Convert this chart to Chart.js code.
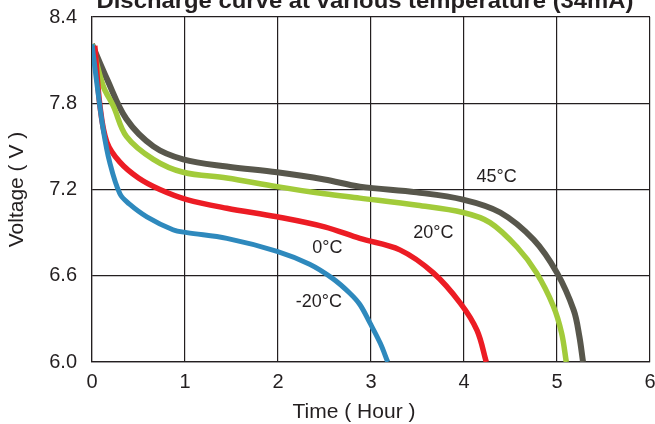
<!DOCTYPE html>
<html><head><meta charset="utf-8">
<script src="https://cdn.jsdelivr.net/npm/chart.js@4/dist/chart.umd.min.js"></script>
<style>html,body{margin:0;padding:0;background:#fff}#w{width:655px;height:424px}</style>
</head><body><div id="w"><canvas id="c"></canvas></div>
<script>
const chartTitle = "Discharge curve at various temperature (34mA)";
const xTitle = "Time ( Hour )";
const yTitle = "Voltage ( V )";
const xTicks = [0,1,2,3,4,5,6];
const yTicks = [6.0,6.6,7.2,7.8,8.4];
const seriesNames = ["-20°C","0°C","20°C","45°C"];
const seriesColors = ["#2e89bd","#ec1c24","#a2cb3a","#58574c"];
const seriesWidths = [5,5.5,5.5,6];
const tM20 = [0,0.06,0.12,0.19,0.30,0.40,0.59,0.87,1.02,1.45,1.99,2.34,2.59,2.77,2.88,2.99,3.10,3.18];
const vM20 = [8.21,7.90,7.62,7.39,7.17,7.10,7.01,6.92,6.90,6.86,6.77,6.68,6.58,6.48,6.40,6.27,6.13,6.0];
const t0 = [0.03,0.086,0.16,0.30,0.50,0.73,1.02,1.45,1.99,2.50,2.88,3.31,3.67,3.96,4.14,4.24];
const v0 = [8.20,7.78,7.53,7.39,7.28,7.20,7.13,7.07,7.01,6.94,6.86,6.78,6.62,6.41,6.22,6.0];
const t20 = [0,0.12,0.23,0.37,0.66,0.98,1.45,1.99,2.50,2.88,3.50,3.99,4.28,4.57,4.78,4.96,5.05,5.10];
const v20 = [8.21,7.92,7.78,7.57,7.41,7.32,7.28,7.22,7.17,7.14,7.09,7.04,6.97,6.80,6.62,6.39,6.20,6.0];
const t45 = [0,0.16,0.37,0.66,0.98,1.45,1.99,2.50,2.88,3.49,3.99,4.39,4.75,5.00,5.18,5.24,5.28];
const v45 = [8.21,7.97,7.69,7.50,7.41,7.36,7.32,7.27,7.22,7.18,7.13,7.04,6.85,6.62,6.36,6.18,6.0];
const labelT = [2.44,2.53,3.67,4.35];
const labelV = [6.42,6.79,6.90,7.29];

const seriesT = [tM20,t0,t20,t45];
const seriesV = [vM20,v0,v20,v45];
const FONT = "'Liberation Sans', Arial, sans-serif";
const INK = '#231f20';

const datasets = seriesNames.map((n,i)=>({
  label:n,
  data: seriesT[i].map((t,j)=>({x:t,y:seriesV[i][j]})),
  borderColor: seriesColors[i],
  borderWidth: seriesWidths[i],
  pointRadius: 0,
  fill:false,
  tension:0.35,
  borderCapStyle:'butt',
  borderJoinStyle:'round'
}));

const textPlugin = {
  id:'texts',
  afterDraw(chart){
    const ctx = chart.ctx, xs = chart.scales.x, ys = chart.scales.y;
    ctx.save();
    ctx.fillStyle = INK;
    ctx.textAlign='center'; ctx.textBaseline='middle';
    ctx.font = "18px " + FONT;
    seriesNames.forEach((n,i)=>{
      ctx.fillText(n, xs.getPixelForValue(labelT[i]), ys.getPixelForValue(labelV[i]));
    });
    ctx.font = "21px " + FONT;
    ctx.fillText(xTitle, 354, 412);
    ctx.font = "bold 22px " + FONT;
    ctx.textBaseline='alphabetic';
    const w = ctx.measureText(chartTitle).width;
    const sx = 537 / w;
    ctx.translate(365, 8);
    ctx.scale(sx, 1);
    ctx.fillText(chartTitle, 0, 0);
    ctx.restore();
  }
};

new Chart(document.getElementById('c'), {
  type:'line',
  data:{datasets},
  options:{
    responsive:true, maintainAspectRatio:false, animation:false,
    layout:{padding:{top:17,right:5,left:0,bottom:0}},
    plugins:{legend:{display:false},tooltip:{enabled:false},title:{display:false}},
    scales:{
      x:{type:'linear',min:0,max:6,
        afterBuildTicks(s){s.ticks = xTicks.map(v=>({value:v}));},
        afterFit(s){s.height = 62; s.paddingLeft = 0; s.paddingRight = 0;},
        grid:{color:INK,lineWidth:1.2,drawTicks:false},
        border:{color:INK,width:1.2},
        ticks:{color:INK,font:{family:FONT,size:20},padding:8,maxRotation:0},
        title:{display:false}
      },
      y:{type:'linear',min:6,max:8.4,
        afterBuildTicks(s){s.ticks = yTicks.map(v=>({value:v}));},
        afterFit(s){s.width = 92; s.paddingTop = 0; s.paddingBottom = 0;},
        grid:{color:INK,lineWidth:1.2,drawTicks:false},
        border:{color:INK,width:1.2},
        ticks:{color:INK,font:{family:FONT,size:20},padding:15,callback:v=>Number(v).toFixed(1)},
        title:{display:true,text:yTitle,color:INK,font:{family:FONT,size:21},padding:{top:5,bottom:0}}
      }
    }
  },
  plugins:[textPlugin]
});
</script></body></html>
